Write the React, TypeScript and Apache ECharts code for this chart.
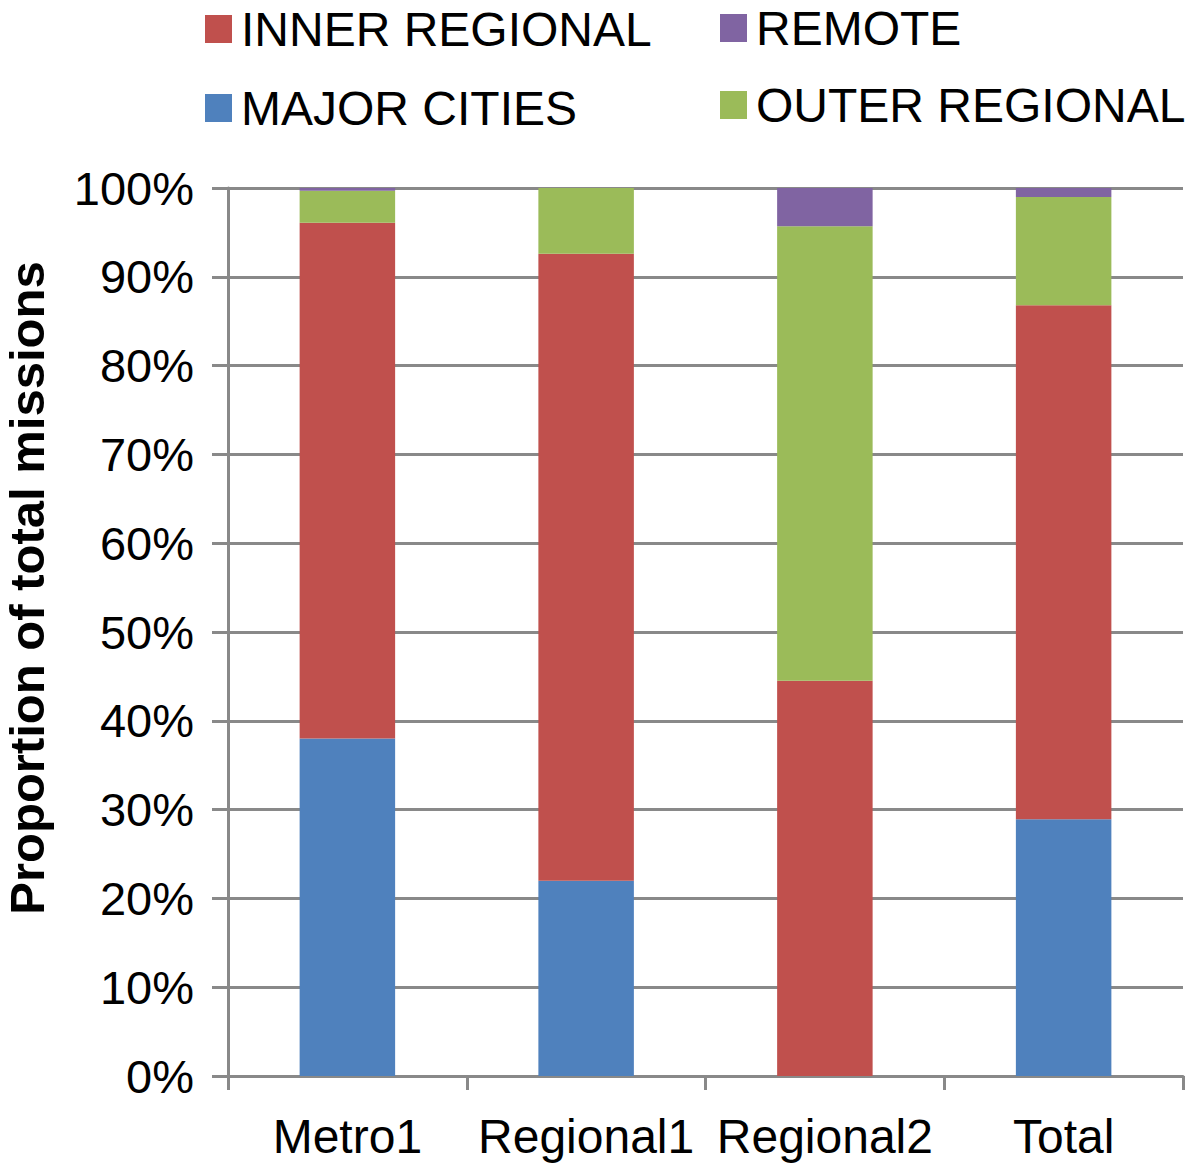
import React, { useEffect, useRef } from "react";
import * as echarts from "echarts";

const categories = ["Metro1", "Regional1", "Regional2", "Total"];
const majorCities = [38.0, 22.0, 0, 28.9];
const innerRegional = [58.1, 70.6, 44.5, 57.9];
const outerRegional = [3.6, 7.4, 51.2, 12.2];
const remote = [0.3, 0, 4.3, 1.0];
const yTicks = [0, 10, 20, 30, 40, 50, 60, 70, 80, 90, 100];

const FONT = "'Liberation Sans', Arial, Helvetica, sans-serif";
const COLORS = {
  major: "#4F81BD",
  inner: "#C0504D",
  outer: "#9BBB59",
  remote: "#8064A2",
};

export default function App() {
  const ref = useRef<HTMLDivElement>(null);
  useEffect(() => {
    if (!ref.current) return;
    const chart = echarts.init(ref.current, undefined, { renderer: "svg" });
    const legendBase = {
      orient: "horizontal",
      itemWidth: 27,
      itemHeight: 28,
      itemGap: 12,
      icon: "rect",
      textStyle: { fontFamily: FONT, fontSize: 48, color: "#000", padding: [0, 0, 0, 4] },
      padding: 0,
    };
    const mkSeries = (name: string, data: number[], color: string) => ({
      name,
      type: "bar",
      stack: "all",
      data,
      barWidth: "40%",
      itemStyle: { color },
      emphasis: { disabled: true },
    });
    chart.setOption({
      animation: false,
      backgroundColor: "#fff",
      legend: [
        { ...legendBase, data: ["INNER REGIONAL"], left: 205, top: 5 },
        { ...legendBase, data: ["REMOTE"], left: 720, top: 4 },
        { ...legendBase, data: ["MAJOR CITIES"], left: 205, top: 84 },
        { ...legendBase, data: ["OUTER REGIONAL"], left: 720, top: 81 },
      ],
      grid: { left: 228, right: 17, top: 188, bottom: 89, containLabel: false },
      xAxis: {
        type: "category",
        data: categories,
        axisLine: { lineStyle: { color: "#898989", width: 3 } },
        axisTick: { show: true, interval: 0, length: 14, lineStyle: { color: "#898989", width: 3 } },
        axisLabel: { interval: 0, fontFamily: FONT, fontSize: 48, color: "#000", margin: 36 },
      },
      yAxis: {
        type: "value",
        min: 0,
        max: 100,
        interval: 10,
        axisLine: { show: true, lineStyle: { color: "#898989", width: 3 } },
        axisTick: { show: true, length: 16, lineStyle: { color: "#898989", width: 3 } },
        splitLine: { show: true, lineStyle: { color: "#898989", width: 3 } },
        axisLabel: {
          fontFamily: FONT,
          fontSize: 47,
          color: "#000",
          margin: 34,
          formatter: (v: number) => (yTicks.includes(v) ? v + "%" : ""),
        },
      },
      graphic: [
        {
          type: "text",
          x: 27,
          y: 588,
          rotation: Math.PI / 2,
          style: {
            text: "Proportion of total missions",
            fontFamily: FONT,
            fontSize: 49,
            fontWeight: "bold",
            fill: "#000",
            align: "center",
            verticalAlign: "middle",
          },
        },
      ],
      series: [
        mkSeries("MAJOR CITIES", majorCities, COLORS.major),
        mkSeries("INNER REGIONAL", innerRegional, COLORS.inner),
        mkSeries("OUTER REGIONAL", outerRegional, COLORS.outer),
        mkSeries("REMOTE", remote, COLORS.remote),
      ],
    });
    return () => chart.dispose();
  }, []);
  return <div ref={ref} style={{ width: 1200, height: 1165, position: "absolute", left: 0, top: 0 }} />;
}
